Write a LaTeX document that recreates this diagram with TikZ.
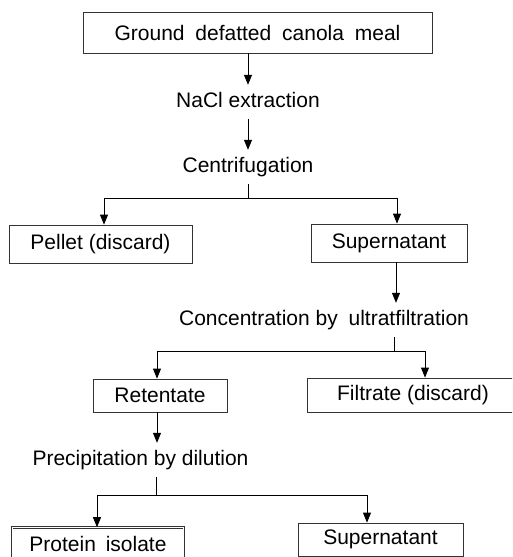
\documentclass[tikz,border=0pt]{standalone}
\usepackage{fontspec}
\setmainfont{Liberation Sans}
\usetikzlibrary{arrows.meta}

\begin{document}
\begin{tikzpicture}[x=1pt, y=-1pt, font=\fontsize{21}{25}\selectfont,
    box/.style={rectangle, draw=black!80, line width=0.8pt, inner sep=0pt, minimum height=38pt},
    lbl/.style={inner sep=0pt, text height=15pt, text depth=4pt, minimum height=34pt},
    arr/.style={-{Triangle[length=10pt, width=8pt]}, line width=0.8pt},
    ln/.style={line width=0.8pt}]

    \clip (0,0) rectangle (512,557);
    
    \node[box, minimum width=349pt, minimum height=41pt] (meal) at (257.5,32.5) {Ground\hspace{5pt} defatted\hspace{5pt} canola\hspace{5pt} meal\hspace{15pt}};
    \node[lbl] (nacl) at (248,102) {NaCl extraction};
    \node[lbl] (centrif) at (248,167) {Centrifugation};
    \node[box, minimum width=183pt] (pellet) at (100.5,244) {Pellet (discard)};
    \node[box, minimum width=156pt] (super1) at (389,243) {Supernatant};
    \node[lbl] (conc) at (324,320) {Concentration by\hspace{5pt} ultratfiltration};
    \node[box, minimum width=134pt, minimum height=33pt] (retentate) at (160,395.5) {Retentate};
    \node[box, minimum width=212pt, minimum height=34pt] (filtrate) at (413,395) {Filtrate (discard)};
    \node[lbl] (precip) at (140.5,460) {Precipitation by dilution};
    \node[box, minimum width=171.5pt, minimum height=32pt, double, double distance=1.2pt, line width=0.6pt] (isolate) at (98,543.5) {Protein\hspace{4pt} isolate};
    \node[box, minimum width=165pt, minimum height=33pt] (super2) at (380.5,539.5) {Supernatant};
    
    \coordinate (split1) at (248,198);
    \coordinate (split2) at (394,351);
    \coordinate (split3) at (156,495);
    
    \draw[arr] (meal.south -| nacl) -- (nacl.north);
    \draw[arr] (nacl.south) -- (centrif.north);
    \draw[ln] (centrif.south) -- (split1);
    \draw[arr] (split1) -| ([xshift=3.5pt]pellet.north);
    \draw[arr] (split1) -| ([xshift=8pt]super1.north);
    \draw[arr] ([xshift=7pt]super1.south) -- ([xshift=7pt]super1.south |- conc.north);
    \draw[ln] (conc.south -| split2) -- (split2);
    \draw[arr] (split2) -| ([xshift=-3pt]retentate.north);
    \draw[arr] (split2) -| ([xshift=12pt]filtrate.north);
    \draw[arr] ([xshift=-3pt]retentate.south) -- ([xshift=-3pt]retentate.south |- precip.north);
    \draw[ln] (precip.south -| split3) -- (split3);
    \draw[arr] (split3) -| ([xshift=-1pt]isolate.north);
    \draw[arr] (split3) -| ([xshift=-13.5pt]super2.north);
\end{tikzpicture}
\end{document}
